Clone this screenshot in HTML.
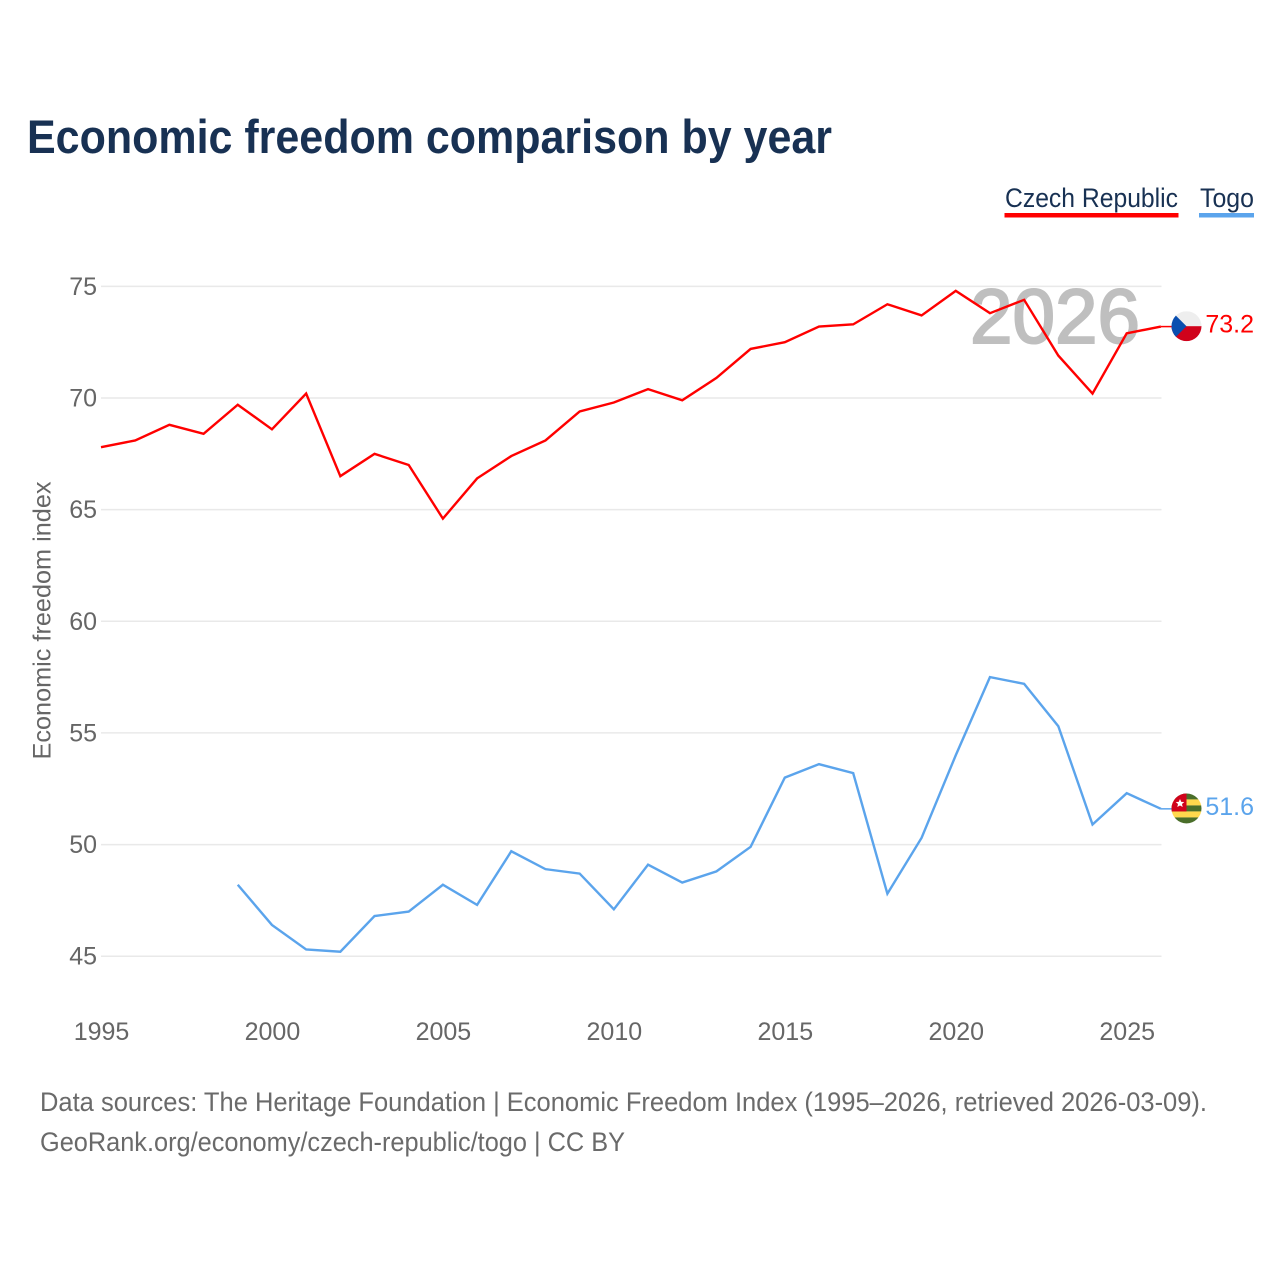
<!DOCTYPE html>
<html lang="en">
<head>
<meta charset="utf-8">
<title>Economic freedom comparison by year</title>
<style>
html,body{margin:0;padding:0;background:#fff;width:1280px;height:1280px;overflow:hidden}
svg{display:block}
text{font-family:"Liberation Sans",sans-serif}
</style>
</head>
<body>
<svg id="chart" xmlns="http://www.w3.org/2000/svg" width="1280" height="1280" viewBox="0 0 1280 1280">
  <defs>
    <clipPath id="flag-clip"><circle cx="0" cy="0" r="15"/></clipPath>
  </defs>
  <text x="27" y="153" font-size="47" font-weight="700" fill="#183153" textLength="805" lengthAdjust="spacingAndGlyphs">Economic freedom comparison by year</text>

  <g>
    <text x="1005" y="207" font-size="27" fill="#183153" textLength="173" lengthAdjust="spacingAndGlyphs">Czech Republic</text>
    <rect x="1004.5" y="213" width="174" height="4.5" fill="#ff0000"/>
  </g>
  <g>
    <text x="1200" y="207" font-size="27" fill="#183153" textLength="54" lengthAdjust="spacingAndGlyphs">Togo</text>
    <rect x="1199" y="213" width="55" height="4.5" fill="#5ba4ec"/>
  </g>

  <text x="970" y="343" font-size="77" fill="#bfbfbf" stroke="#bfbfbf" stroke-width="2" textLength="170" lengthAdjust="spacingAndGlyphs">2026</text>
  <g id="grid"></g>
  <g id="y-ticks"></g>
  <g id="x-ticks"></g>
  <text transform="translate(50.5 620.5) rotate(-90)" text-anchor="middle" font-size="25" fill="#666666" textLength="278" lengthAdjust="spacingAndGlyphs">Economic freedom index</text>
  <g id="series"></g>

  <g id="flag-cz">
    <g clip-path="url(#flag-clip)">
      <rect x="-15" y="-15" width="30" height="15" fill="#eeeeee"/>
      <rect x="-15" y="0" width="30" height="15" fill="#d0021b"/>
      <polygon points="-15,-15 0,0 -15,15" fill="#0a4fb0"/>
    </g>
  </g>
  <g id="flag-tg">
    <g clip-path="url(#flag-clip)">
      <rect x="-15" y="-15" width="30" height="6" fill="#4a6e2a"/>
      <rect x="-15" y="-9" width="30" height="6" fill="#ffd84d"/>
      <rect x="-15" y="-3" width="30" height="6" fill="#4a6e2a"/>
      <rect x="-15" y="3" width="30" height="6" fill="#ffd84d"/>
      <rect x="-15" y="9" width="30" height="6" fill="#4a6e2a"/>
      <rect x="-15" y="-15" width="15" height="18" fill="#d0021b"/>
      <polygon points="-6.5,-9.5 -5.2,-6.6 -2.2,-6.4 -4.5,-4.4 -3.8,-1.4 -6.5,-3 -9.2,-1.4 -8.5,-4.4 -10.8,-6.4 -7.8,-6.6" fill="#ffffff"/>
    </g>
  </g>

  <text x="40" y="1111" font-size="26.5" fill="#6a6a6a" textLength="1167" lengthAdjust="spacingAndGlyphs">Data sources: The Heritage Foundation | Economic Freedom Index (1995–2026, retrieved 2026-03-09).</text>
  <text x="40" y="1151" font-size="26.5" fill="#6a6a6a" textLength="585" lengthAdjust="spacingAndGlyphs">GeoRank.org/economy/czech-republic/togo | CC BY</text>
</svg>
<script>
var years = [1995,1996,1997,1998,1999,2000,2001,2002,2003,2004,2005,2006,2007,2008,2009,2010,2011,2012,2013,2014,2015,2016,2017,2018,2019,2020,2021,2022,2023,2024,2025,2026];
var czechValues = [67.8,68.1,68.8,68.4,69.7,68.6,70.2,66.5,67.5,67.0,64.6,66.4,67.4,68.1,69.4,69.8,70.4,69.9,70.9,72.2,72.5,73.2,73.3,74.2,73.7,74.8,73.8,74.4,71.9,70.2,72.9,73.2];
var togoValues = [null,null,null,null,48.2,46.4,45.3,45.2,46.8,47.0,48.2,47.3,49.7,48.9,48.7,47.1,49.1,48.3,48.8,49.9,53.0,53.6,53.2,47.8,50.3,54.0,57.5,57.2,55.3,50.9,52.3,51.6];
var yTickValues = [45,50,55,60,65,70,75];
var xTickValues = [1995,2000,2005,2010,2015,2020,2025];

var SVGNS = 'http://www.w3.org/2000/svg';
function xScale(year){ return 101 + (year - 1995) * (1160.9 - 101) / 31; }
function yScale(value){ return 956.2 + (value - 45) * (286.4 - 956.2) / 30; }
function make(tag, attrs, parent){
  var el = document.createElementNS(SVGNS, tag);
  for (var k in attrs) el.setAttribute(k, attrs[k]);
  parent.appendChild(el);
  return el;
}

var grid = document.getElementById('grid');
var yTicks = document.getElementById('y-ticks');
var xTicks = document.getElementById('x-ticks');
var seriesLayer = document.getElementById('series');

yTickValues.forEach(function(v){
  var line = make('line', {x1:101, x2:1161.5, y1:yScale(v), y2:yScale(v), stroke:'#e9e9e9', 'stroke-width':1.5}, grid);
  
  
  var label = make('text', {x:97, y:yScale(v) + 8.5, 'text-anchor':'end', 'font-size':25, fill:'#666666'}, yTicks);
  label.textContent = String(v);
  
  
});

xTickValues.forEach(function(v){
  var label = make('text', {x:xScale(v) + 0.5, y:1040, 'text-anchor':'middle', 'font-size':25, fill:'#666666'}, xTicks);
  label.textContent = String(v);
  
  
});

function drawSeries(values, color, slug, flagId){
  var pts = [];
  values.forEach(function(v, i){
    if (v !== null) pts.push(xScale(years[i]).toFixed(2) + ',' + yScale(v).toFixed(2));
  });
  var path = make('polyline', {points:pts.join(' '), fill:'none', stroke:color, 'stroke-width':2.4, 'stroke-linejoin':'miter'}, seriesLayer);
  
  

  var last = values[values.length - 1];
  var ly = yScale(last);
  var conn = make('line', {x1:xScale(years[years.length - 1]), x2:1172, y1:ly, y2:ly, stroke:color, 'stroke-width':1.5}, seriesLayer);
  
  

  document.getElementById(flagId).setAttribute('transform', 'translate(1186.5 ' + (ly - 0.4) + ')');

  var label = make('text', {x:1254, y:ly + 6, 'text-anchor':'end', 'font-size':25, fill:color}, seriesLayer);
  label.textContent = last.toFixed(1);
  
  
}

drawSeries(czechValues, '#ff0000', 'czech-republic', 'flag-cz');
drawSeries(togoValues, '#5ba4ec', 'togo', 'flag-tg');
</script>
</body>
</html>
